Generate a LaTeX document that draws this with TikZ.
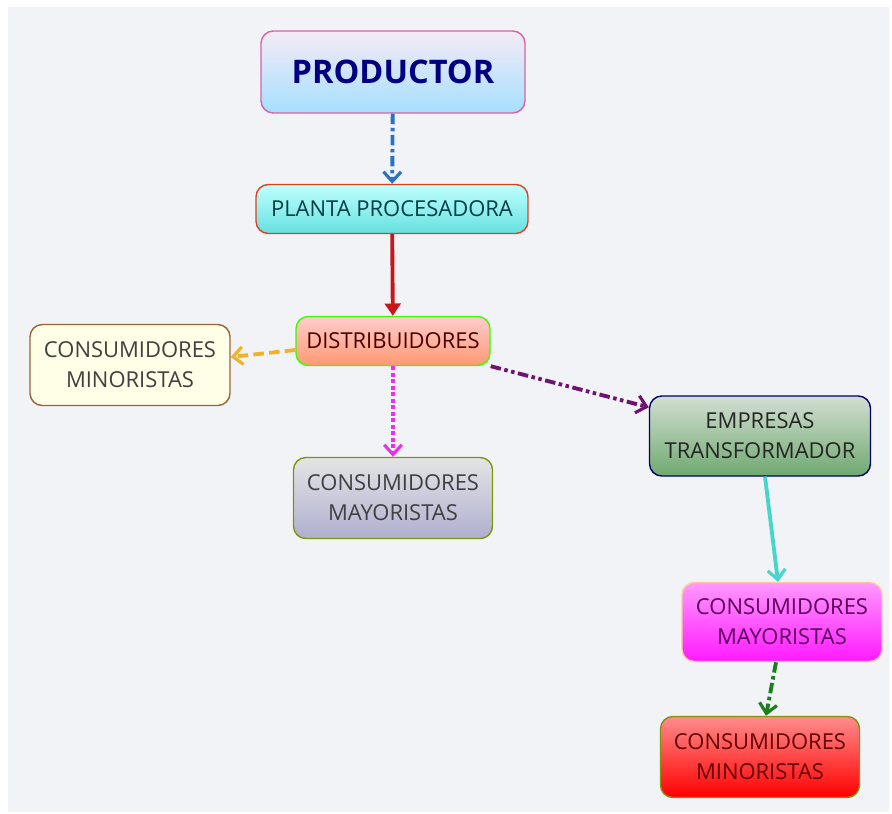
\documentclass[tikz,border=0pt]{standalone}
\usepackage{fontspec}
\setmainfont{Open Sans}
\usetikzlibrary{arrows.meta,shadings}

\definecolor{fondo}{HTML}{F2F3F7}
\definecolor{azulflecha}{HTML}{2A72C4}
\definecolor{rojoflecha}{HTML}{C8161A}
\definecolor{naranjaflecha}{HTML}{F0B226}
\definecolor{rosaflecha}{HTML}{EE2EEE}
\definecolor{moradoflecha}{HTML}{6E1470}
\definecolor{turquesaflecha}{HTML}{48D6CC}
\definecolor{verdeflecha}{HTML}{1E7E1E}

\tikzset{
  caja/.style={draw, rounded corners=7pt, line width=0.8pt, align=center,
    inner sep=0pt, font=\fontsize{12.5}{17}\selectfont, text=black!75},
  flecha/.style={line width=2.2pt, -{Straight Barb[length=5.5pt,width=10pt,line width=1.8pt]}},
}

\begin{document}
\begin{tikzpicture}[x=0.02cm, y=-0.02cm] %unidades en pixeles
	%Fondo
	\fill[white] (0,0) rectangle (892,814);
	\fill[fondo] (8,7) rectangle (889,812);
	%Cajas
	\node[caja, minimum width=264*0.02cm, minimum height=82*0.02cm, draw=magenta!60!violet!70,
	  top color=violet!8, bottom color=blue!35!cyan!35, text=blue!50!black,
	  font=\fontsize{18.5}{22}\bfseries\selectfont] (prod) at (393,72) {PRODUCTOR};
	\node[caja, minimum width=272*0.02cm, minimum height=49*0.02cm, draw=red!50!brown,
	  top color=cyan!25, bottom color=teal!40!cyan!60, text=teal!50!black] (planta) at (392,209) {PLANTA PROCESADORA};
	\node[caja, minimum width=194*0.02cm, minimum height=49*0.02cm, draw=green!70!lime,
	  top color=red!20, bottom color=red!45!orange!55, text=red!30!black] (dist) at (393,341) {DISTRIBUIDORES};
	\node[caja, minimum width=200*0.02cm, minimum height=81*0.02cm, draw=brown!80!black,
	  fill=yellow!10] (cmin1) at (130,365) {CONSUMIDORES\\MINORISTAS};
	\node[caja, minimum width=199*0.02cm, minimum height=81*0.02cm, draw=olive!70!green,
	  top color=blue!5!gray!20, bottom color=blue!25!gray!50] (cmay1) at (393,498) {CONSUMIDORES\\MAYORISTAS};
	\node[caja, minimum width=221*0.02cm, minimum height=80*0.02cm, draw=blue!40!black,
	  top color=green!15!gray!30, bottom color=green!25!gray!90, text=black!85] (emp) at (760,436) {EMPRESAS\\TRANSFORMADOR};
	\node[caja, minimum width=200*0.02cm, minimum height=79*0.02cm, draw=orange!40,
	  top color=magenta!40, bottom color=magenta!90, text=violet!70!black] (cmay2) at (782,622) {CONSUMIDORES\\MAYORISTAS};
	\node[caja, minimum width=199*0.02cm, minimum height=81*0.02cm, draw=olive!80!green,
	  top color=red!45, bottom color=red, text=red!40!black] (cmin2) at (760,757) {CONSUMIDORES\\MINORISTAS};
	%Flechas
	\draw[flecha, azulflecha, dash pattern=on 6pt off 2pt on 2pt off 2pt] (prod) -- (planta);
	\draw[line width=2.2pt, rojoflecha, -{Triangle[length=7pt,width=9pt]}] (planta) -- (dist);
	\draw[flecha, naranjaflecha, dash pattern=on 6pt off 3pt] ([yshift=-0.18cm]dist.west) -- ([yshift=0.16cm]cmin1.east);
	\draw[flecha, rosaflecha, dash pattern=on 2.2pt off 1.5pt] (dist) -- (cmay1);
	\draw[flecha, moradoflecha, dash pattern=on 6pt off 2pt on 2pt off 2pt on 2pt off 2pt] (dist.south east) -- ([yshift=-0.24cm]emp.north west);
	\draw[flecha, turquesaflecha] ([xshift=0.1cm]emp.south) -- ([xshift=-0.08cm]cmay2.north);
	\draw[flecha, verdeflecha, dash pattern=on 6pt off 2pt on 2pt off 2pt] ([xshift=-0.12cm]cmay2.south) -- ([xshift=0.12cm]cmin2.north);
\end{tikzpicture}
\end{document}
